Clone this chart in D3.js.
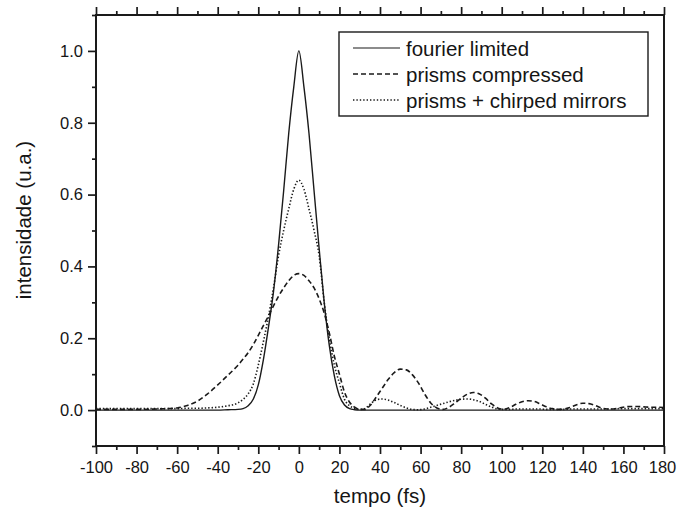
<!DOCTYPE html>
<html>
<head>
<meta charset="utf-8">
<script src="https://cdn.jsdelivr.net/npm/d3@7"></script>
<style>
body { margin: 0; background: #fff; }
svg text { font-family: "Liberation Sans", Arial, sans-serif; fill: #151515; }
</style>
</head>
<body>
<div id="chart"></div>
<script>
// time axis (fs), shared by the three curves
const tempo = [
    -100, -90, -80, -70, -60, -55, -50, -45, -40, -35, -30,
    -27.5, -25, -22.5, -20, -17.5, -15, -12.5, -10, -7.5, -5, -2.5,
    0, 2.5, 5, 7.5, 10, 12.5, 15, 17.5, 20, 22.5, 25, 27.5,
    30, 32.5, 35, 38, 41, 44, 47, 50, 53, 56, 59, 62,
    65, 68, 71, 74, 77, 80, 83, 86, 89, 92, 95, 98,
    101, 104, 107, 110, 113, 116, 119, 122, 125, 128, 131, 134,
    137, 140, 143, 146, 149, 152, 155, 158, 161, 164, 167, 170,
    173, 176, 180
];

const fourierLimited = [
    0, 0, 0, 0, 0, 0, 0, 0, 0, 0.001, 0.002,
    0.004, 0.012, 0.03, 0.07, 0.14, 0.23, 0.33, 0.46, 0.61, 0.77, 0.9,
    1.0, 0.9, 0.77, 0.61, 0.45, 0.3, 0.18, 0.095, 0.04, 0.014, 0.004, 0.001,
    0, 0, 0, 0, 0, 0, 0, 0, 0, 0, 0, 0,
    0, 0, 0, 0, 0, 0, 0, 0, 0, 0, 0, 0,
    0, 0, 0, 0, 0, 0, 0, 0, 0, 0, 0, 0,
    0, 0, 0, 0, 0, 0, 0, 0, 0, 0, 0, 0,
    0, 0, 0
];

const prismsCompressed = [
    0.002, 0.002, 0.002, 0.003, 0.006, 0.013, 0.025, 0.045, 0.07, 0.097, 0.125,
    0.142, 0.16, 0.182, 0.208, 0.235, 0.262, 0.29, 0.317, 0.34, 0.36, 0.375,
    0.38, 0.375, 0.36, 0.34, 0.31, 0.27, 0.215, 0.15, 0.1, 0.05, 0.022, 0.008,
    0.002, 0.002, 0.012, 0.035, 0.06, 0.085, 0.104, 0.114, 0.112, 0.098, 0.075, 0.045,
    0.02, 0.006, 0.002, 0.008, 0.02, 0.033, 0.044, 0.049, 0.045, 0.033, 0.017, 0.006,
    0.002, 0.007, 0.016, 0.023, 0.026, 0.024, 0.017, 0.009, 0.004, 0.002, 0.003, 0.008,
    0.015, 0.019, 0.018, 0.013, 0.006, 0.003, 0.003, 0.006, 0.009, 0.01, 0.01, 0.009,
    0.008, 0.008, 0.007
];

const prismsChirped = [
    0.004, 0.004, 0.004, 0.004, 0.004, 0.005, 0.005, 0.006, 0.008, 0.012, 0.02,
    0.03, 0.045, 0.072, 0.125, 0.19, 0.26, 0.34, 0.43, 0.5, 0.56, 0.615,
    0.64, 0.615, 0.56, 0.5, 0.43, 0.3, 0.2, 0.125, 0.075, 0.03, 0.012, 0.005,
    0.002, 0.004, 0.016, 0.028, 0.031, 0.028, 0.021, 0.013, 0.006, 0.002, 0.001, 0.003,
    0.008, 0.013, 0.018, 0.023, 0.027, 0.03, 0.031, 0.029, 0.024, 0.016, 0.008, 0.003,
    0.002, 0.002, 0.003, 0.003, 0.003, 0.003, 0.003, 0.002, 0.002, 0.002, 0.002, 0.003,
    0.003, 0.003, 0.003, 0.003, 0.003, 0.003, 0.003, 0.004, 0.004, 0.004, 0.004, 0.004,
    0.004, 0.004, 0.004
];

const seriesNames = ["fourier limited", "prisms compressed", "prisms + chirped mirrors"];

const xTicks = [-100, -80, -60, -40, -20, 0, 20, 40, 60, 80, 100, 120, 140, 160, 180];
const xMinorTicks = [-90, -70, -50, -30, -10, 10, 30, 50, 70, 90, 110, 130, 150, 170];
const yTicks = [0, 0.2, 0.4, 0.6, 0.8, 1.0];
const yMinorTicks = [-0.1, 0.1, 0.3, 0.5, 0.7, 0.9, 1.1];

const width = 677, height = 515;
const margin = {top: 15, right: 13, bottom: 69, left: 96};
const ink = "#1a1a1a";

const svg = d3.select("#chart")
    .append("svg")
    .attr("width", width)
    .attr("height", height);

const x = d3.scaleLinear()
    .domain([-100, 180])
    .range([margin.left, width - margin.right]);

const y = d3.scaleLinear()
    .domain([-0.1, 1.1])
    .range([height - margin.bottom, margin.top]);

// curves
const styles = [
    {data: fourierLimited, dash: null, w: 1.4},
    {data: prismsCompressed, dash: "5,3", w: 1.6},
    {data: prismsChirped, dash: "1.4,2", w: 1.6}
];

const line = d3.line()
    .x(d => x(d[0]))
    .y(d => y(d[1]))
    .curve(d3.curveMonotoneX);

const plot = svg.append("g");
plot.append("clipPath").attr("id", "clip")
    .append("rect")
    .attr("x", margin.left).attr("y", margin.top)
    .attr("width", width - margin.left - margin.right)
    .attr("height", height - margin.top - margin.bottom);

styles.forEach(s => {
    plot.append("path")
        .datum(tempo.map((t, i) => [t, s.data[i]]))
        .attr("clip-path", "url(#clip)")
        .attr("fill", "none")
        .attr("stroke", ink)
        .attr("stroke-width", s.w)
        .attr("stroke-dasharray", s.dash)
        .attr("d", line);
});

// axes (plain hyphen for negatives, like the original)
const fmtX = d => String(d);
const fmtY = d => d.toFixed(1);

function styleAxis(g) {
    g.select(".domain").remove();
    g.selectAll(".tick line").attr("stroke", ink).attr("stroke-width", 1.7);
    g.selectAll(".tick text").attr("font-size", 16.5).attr("fill", "#151515");
}

const bottom = height - margin.bottom;

const xAxisG = svg.append("g")
    .attr("transform", `translate(0,${bottom})`)
    .call(d3.axisBottom(x).tickValues(xTicks).tickSize(8).tickPadding(7).tickFormat(fmtX))
    .call(styleAxis);
// last label sits at the page edge
xAxisG.selectAll(".tick text").filter(d => d === 180).attr("dx", -2);

svg.append("g")
    .attr("transform", `translate(0,${bottom})`)
    .call(d3.axisBottom(x).tickValues(xMinorTicks).tickSize(4).tickFormat(""))
    .call(styleAxis);

svg.append("g")
    .attr("transform", `translate(0,${margin.top})`)
    .call(d3.axisTop(x).tickValues(xTicks).tickSize(8).tickFormat(""))
    .call(styleAxis);
svg.append("g")
    .attr("transform", `translate(0,${margin.top})`)
    .call(d3.axisTop(x).tickValues(xMinorTicks).tickSize(4).tickFormat(""))
    .call(styleAxis);

svg.append("g")
    .attr("transform", `translate(${margin.left},0)`)
    .call(d3.axisLeft(y).tickValues(yTicks).tickSize(8).tickPadding(5).tickFormat(fmtY))
    .call(styleAxis);
svg.append("g")
    .attr("transform", `translate(${margin.left},0)`)
    .call(d3.axisLeft(y).tickValues(yMinorTicks).tickSize(4).tickFormat(""))
    .call(styleAxis);

// frame
svg.append("rect")
    .attr("x", margin.left)
    .attr("y", margin.top)
    .attr("width", width - margin.left - margin.right)
    .attr("height", height - margin.top - margin.bottom)
    .attr("fill", "none")
    .attr("stroke", ink)
    .attr("stroke-width", 2);

// axis titles
svg.append("text")
    .attr("x", (margin.left + width - margin.right) / 2)
    .attr("y", 503)
    .attr("text-anchor", "middle")
    .attr("font-size", 20.5)
    .text("tempo (fs)");

svg.append("text")
    .attr("transform", "translate(31,220) rotate(-90)")
    .attr("text-anchor", "middle")
    .attr("font-size", 20.5)
    .text("intensidade (u.a.)");

// legend
const legend = svg.append("g");
legend.append("rect")
    .attr("x", 339).attr("y", 32)
    .attr("width", 309).attr("height", 84)
    .attr("fill", "#fff")
    .attr("stroke", ink)
    .attr("stroke-width", 1.4);

seriesNames.forEach((name, i) => {
    const cy = 48 + i * 26;
    legend.append("line")
        .attr("x1", 353).attr("x2", 400)
        .attr("y1", cy).attr("y2", cy)
        .attr("stroke", ink)
        .attr("stroke-width", styles[i].w - 0.3)
        .attr("stroke-dasharray", styles[i].dash);
    legend.append("text")
        .attr("x", 406)
        .attr("y", cy + 7.5)
        .attr("font-size", 20.5)
        .text(name);
});
</script>
</body>
</html>
